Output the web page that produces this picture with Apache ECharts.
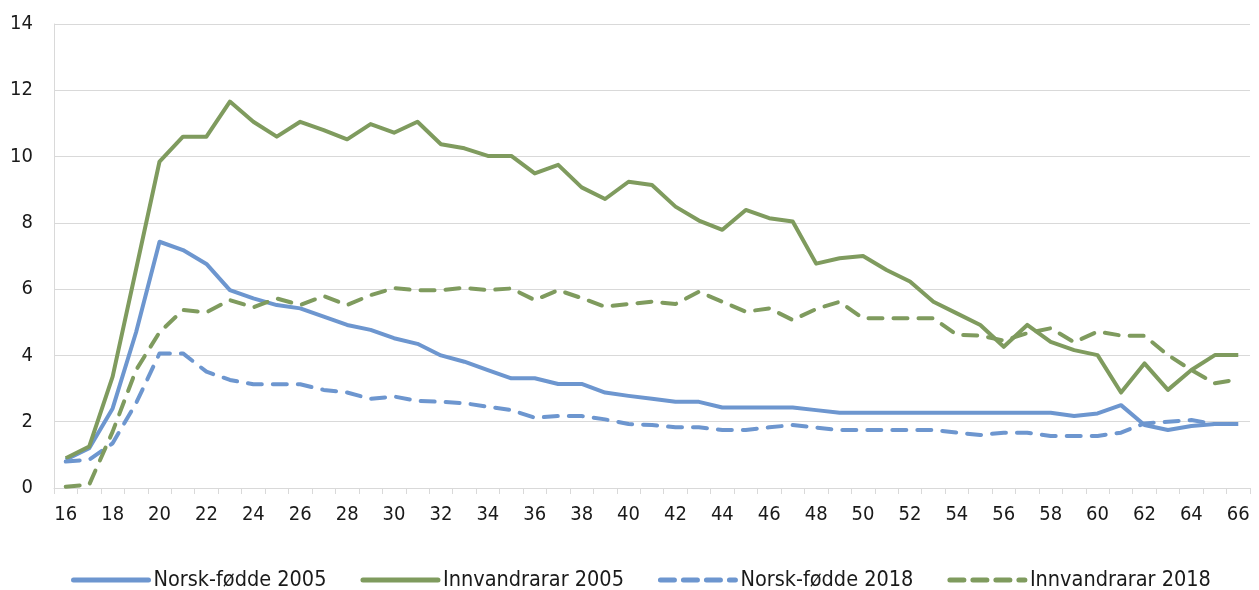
<!DOCTYPE html>
<html>
<head>
<meta charset="utf-8">
<script src="https://cdn.jsdelivr.net/npm/echarts@6/dist/echarts.min.js"></script>
<style>
  html, body { margin: 0; padding: 0; background: #fff; }
  #chart { width: 1259px; height: 590px; }
</style>
</head>
<body>
<div id="chart"></div>
<script>
// alder 16–66
const ages = []
for (let a = 16; a <= 66; a++) ages.push(String(a))

const norskFodde2005 = [
  0.85, 1.2, 2.4, 4.7, 7.43, 7.18, 6.76, 5.97, 5.72, 5.52,
  5.42, 5.17, 4.92, 4.77, 4.52, 4.35, 4.0, 3.81, 3.56, 3.31,
  3.31, 3.14, 3.14, 2.88, 2.78, 2.69, 2.6, 2.6, 2.43, 2.43,
  2.43, 2.43, 2.35, 2.27, 2.27, 2.27, 2.27, 2.27, 2.27, 2.27,
  2.27, 2.27, 2.27, 2.17, 2.25, 2.5, 1.9, 1.75, 1.87, 1.93,
  1.93
]
const innvandrarar2005 = [
  0.9, 1.25, 3.36, 6.6, 9.85, 10.6, 10.6, 11.66, 11.05, 10.6,
  11.05, 10.8, 10.52, 10.98, 10.72, 11.05, 10.37, 10.25, 10.02, 10.02,
  9.49, 9.75, 9.07, 8.72, 9.24, 9.14, 8.49, 8.07, 7.79, 8.39,
  8.14, 8.04, 6.77, 6.93, 7.0, 6.58, 6.23, 5.62, 5.27, 4.92,
  4.26, 4.92, 4.41, 4.16, 4.01, 2.88, 3.76, 2.96, 3.56, 4.01,
  4.01
]
const norskFodde2018 = [
  0.8, 0.85, 1.35, 2.56, 4.06, 4.06, 3.51, 3.26, 3.13, 3.13,
  3.13, 2.96, 2.88, 2.69, 2.76, 2.63, 2.6, 2.56, 2.45, 2.35,
  2.12, 2.17, 2.17, 2.07, 1.93, 1.9, 1.83, 1.83, 1.75, 1.75,
  1.83, 1.9, 1.82, 1.75, 1.75, 1.75, 1.75, 1.75, 1.67, 1.6,
  1.67, 1.67, 1.57, 1.57, 1.57, 1.67, 1.95, 2.0, 2.05, 1.93,
  1.93
]
const innvandrarar2018 = [
  0.04, 0.1, 1.7, 3.56, 4.7, 5.37, 5.3, 5.67, 5.45, 5.72,
  5.52, 5.79, 5.52, 5.82, 6.03, 5.97, 5.97, 6.04, 5.97, 6.02,
  5.67, 5.97, 5.73, 5.47, 5.55, 5.62, 5.55, 5.92, 5.62, 5.32,
  5.42, 5.07, 5.4, 5.62, 5.12, 5.12, 5.12, 5.12, 4.62, 4.6,
  4.45, 4.67, 4.82, 4.4, 4.72, 4.6, 4.59, 4.01, 3.56, 3.16,
  3.28
]

const blue = '#6d96cf'
const green = '#7f9b5e'
const font = "'DejaVu Sans Condensed', 'Liberation Sans', sans-serif"
const textColor = '#1a1a1a'

function line(name, data, color, dashed) {
  return {
    name,
    type: 'line',
    data,
    symbol: 'none',
    lineStyle: {
      color,
      width: 4,
      type: dashed ? [14, 11] : 'solid',
      cap: dashed ? 'round' : 'butt',
      join: 'round'
    },
    itemStyle: { color },
    emphasis: { disabled: true }
  }
}

// legendeikon for stipla linjer: slutt med ein prikk rett før teksten
const dashedIcon = { type: [14, 9] }

const chart = echarts.init(document.getElementById('chart'))
chart.setOption({
  animation: false,
  textStyle: { fontFamily: font },
  grid: { left: 54, right: 9, top: 24, bottom: 102 },
  legend: {
    top: 564,
    left: 66,
    itemWidth: 75,
    itemHeight: 24,
    itemGap: 34,
    itemStyle: { opacity: 0 },
    lineStyle: { width: 5, cap: 'round' },
    textStyle: { fontFamily: font, fontSize: 21.5, color: textColor },
    data: [
      { name: 'Norsk-fødde 2005' },
      { name: 'Innvandrarar 2005' },
      { name: 'Norsk-fødde 2018', lineStyle: dashedIcon },
      { name: 'Innvandrarar 2018', lineStyle: dashedIcon }
    ]
  },
  xAxis: {
    type: 'category',
    data: ages,
    boundaryGap: true,
    axisLine: { lineStyle: { color: '#d9d9d9', width: 1 } },
    axisTick: { show: true, interval: 0, length: 6, lineStyle: { color: '#d9d9d9' } },
    axisLabel: { interval: 1, margin: 17, fontSize: 20, color: textColor, fontFamily: font },
    splitLine: { show: false }
  },
  yAxis: {
    type: 'value',
    min: 0,
    max: 14,
    interval: 2,
    axisLine: { show: true, lineStyle: { color: '#d9d9d9', width: 1 } },
    axisTick: { show: false },
    axisLabel: { margin: 21, fontSize: 20, color: textColor, fontFamily: font },
    splitLine: { lineStyle: { color: '#d9d9d9', width: 1 } }
  },
  series: [
    line('Norsk-fødde 2005', norskFodde2005, blue, false),
    line('Innvandrarar 2005', innvandrarar2005, green, false),
    line('Norsk-fødde 2018', norskFodde2018, blue, true),
    line('Innvandrarar 2018', innvandrarar2018, green, true)
  ]
})
</script>
</body>
</html>
